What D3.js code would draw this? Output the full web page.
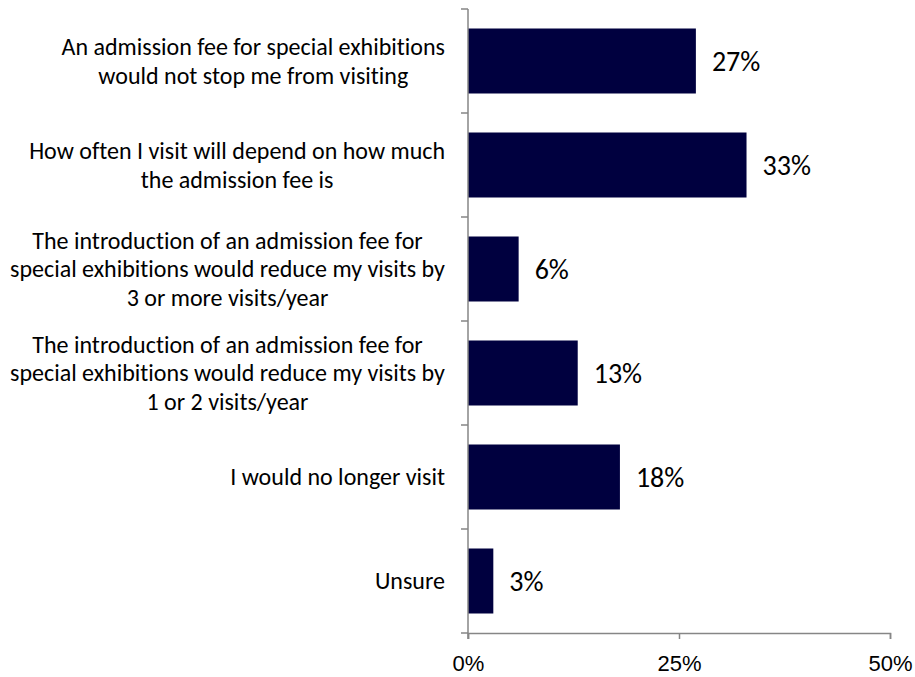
<!DOCTYPE html>
<html>
<head>
<meta charset="utf-8">
<script src="https://cdn.jsdelivr.net/npm/d3@7"></script>
<style>
  html, body { margin: 0; padding: 0; background: #fff; }
  svg { display: block; font-family: Carlito, Calibri, "Open Sans", sans-serif; font-variant-ligatures: none; }
</style>
</head>
<body>
<svg id="chart" width="915" height="677"></svg>
<script>
// Survey responses on the introduction of an admission fee
const categories = [
  ["An admission fee for special exhibitions", "would not stop me from visiting"],
  ["How often I visit will depend on how much", "the admission fee is"],
  ["The introduction of an admission fee for", "special exhibitions would reduce my visits by", "3 or more visits/year"],
  ["The introduction of an admission fee for", "special exhibitions would reduce my visits by", "1 or 2 visits/year"],
  ["I would no longer visit"],
  ["Unsure"]
];
const values = [27, 33, 6, 13, 18, 3];
const tickValues = [0, 25, 50];

const svg = d3.select("#chart");
const margin = { left: 468, right: 25, top: 9, bottom: 44 };
const W = 915, H = 677;
const axisColor = "#868686";
const barColor = "#00003f";

const keys = categories.map((c, i) => i);
const y = d3.scaleBand().domain(keys).range([margin.top, H - margin.bottom]).paddingInner(0.375).paddingOuter(0.1875);
const x = d3.scaleLinear().domain([0, 50]).range([margin.left, W - margin.right]);

// bars
svg.append("g").selectAll("rect").data(values).join("rect")
  .attr("x", x(0))
  .attr("y", (d, i) => y(i))
  .attr("width", d => x(d) - x(0))
  .attr("height", y.bandwidth())
  .attr("fill", barColor);

// value labels
svg.append("g").selectAll("text").data(values).join("text")
  .attr("x", d => x(d) + 16)
  .attr("y", (d, i) => y(i) + y.bandwidth() / 2)
  .attr("dy", "0.35em")
  .attr("font-size", 28)
  .attr("fill", "#000")
  .text(d => d + "%");

// vertical axis line with ticks at band boundaries
const step = y.step();
const boundaries = d3.range(categories.length + 1).map(i => margin.top + i * step);
const axisG = svg.append("g").attr("stroke", axisColor).attr("stroke-width", 1.5);
axisG.append("line").attr("x1", x(0)).attr("x2", x(0)).attr("y1", margin.top).attr("y2", H - margin.bottom + 6);
axisG.selectAll("line.yt").data(boundaries).join("line").attr("class", "yt")
  .attr("x1", x(0) - 7).attr("x2", x(0)).attr("y1", d => d).attr("y2", d => d);

// horizontal axis
const xAxis = d3.axisBottom(x).tickValues(tickValues).tickFormat(d => d + "%").tickSize(6).tickPadding(16);
const gx = svg.append("g").attr("transform", `translate(0,${H - margin.bottom})`).call(xAxis);
gx.select(".domain").attr("stroke", axisColor).attr("stroke-width", 1.5);
gx.selectAll(".tick line").attr("stroke", axisColor).attr("stroke-width", 1.5);
gx.selectAll(".tick text").attr("font-size", 22).attr("fill", "#000").attr("font-family", null);

// category labels: centred lines, group right-aligned against the axis
const lineH = 28.5;
const labelG = svg.append("g");
categories.forEach((lines, i) => {
  const g = labelG.append("g");
  const cy = y(i) + y.bandwidth() / 2;
  lines.forEach((t, j) => {
    g.append("text")
      .attr("x", 0)
      .attr("y", cy + (j - (lines.length - 1) / 2) * lineH)
      .attr("dy", "0.35em")
      .attr("text-anchor", "middle")
      .attr("font-size", 24)
      .attr("fill", "#000")
      .text(t);
  });
  const bb = g.node().getBBox();
  g.attr("transform", `translate(${445 - (bb.x + bb.width)},0)`);
});
</script>
</body>
</html>
